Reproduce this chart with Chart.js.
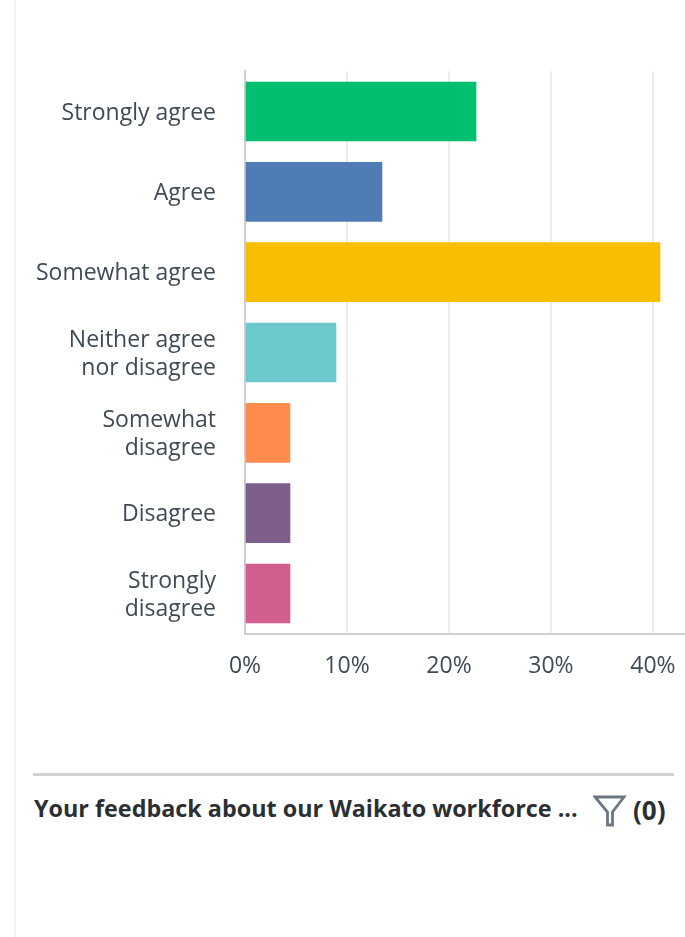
<!DOCTYPE html>
<html>
<head>
<meta charset="utf-8">
<style>
  html, body { margin: 0; padding: 0; background: #fff; }
  #page { position: relative; width: 685px; height: 937px; overflow: hidden; }
  #chart { position: absolute; left: 0; top: 0; }
  #edge { position: absolute; left: 14px; top: 0; width: 2px; height: 937px; background: #f1f1f1; }
  #rule { position: absolute; left: 33px; top: 773px; width: 641px; height: 3px; background: #d0d0d0; }
  #title { position: absolute; left: 34px; top: 792px; font: 700 23.35px "Open Sans", sans-serif; color: #2b2f33; white-space: nowrap; }
  #count { position: absolute; left: 633px; top: 792px; font: 700 26px "Open Sans", sans-serif; color: #2b2f33; }
  #funnel { position: absolute; left: 593px; top: 795px; }
</style>
</head>
<body>
<div id="page">
  <div id="edge"></div>
  <canvas id="chart" width="685" height="720"></canvas>
  <div id="rule"></div>
  <div id="title">Your feedback about our Waikato workforce ...</div>
  <svg id="funnel" width="34" height="32" viewBox="0 0 34 32" fill="none" stroke="#6b7780" stroke-width="2.8">
    <path d="M2 2 H31 L19.5 17 V30 H14.5 V17 Z"/>
  </svg>
  <div id="count">(0)</div>
</div>
<script src="https://cdn.jsdelivr.net/npm/chart.js@4"></script>
<script>
// Survey response shares, one horizontal bar per answer
const categories = [
  'Strongly agree',
  'Agree',
  'Somewhat agree',
  ['Neither agree', 'nor disagree'],
  ['Somewhat', 'disagree'],
  'Disagree',
  ['Strongly', 'disagree']
];
const percentages = [22.65, 13.43, 40.69, 8.92, 4.41, 4.41, 4.41];
const barColors = ['#00bf6f', '#507cb6', '#f9be00', '#6bc8cd', '#ff8b4f', '#7d5e8d', '#d25e8f'];
const axisTicks = [0, 10, 20, 30, 40];
const axisMax = 43.14;

new Chart(document.getElementById('chart'), {
  type: 'bar',
  data: {
    labels: categories,
    datasets: [{
      data: percentages,
      backgroundColor: barColors,
      barThickness: 59,
      borderWidth: 0
    }]
  },
  options: {
    indexAxis: 'y',
    responsive: false,
    animation: false,
    layout: { padding: { top: 71.35, right: 0, left: 0, bottom: 0 } },
    plugins: { legend: { display: false }, tooltip: { enabled: false } },
    scales: {
      x: {
        min: 0,
        max: axisMax,
        afterBuildTicks(axis) { axis.ticks = axisTicks.map(value => ({ value })); },
        // The last tick label fits inside the plot, so no extra room is kept for it
        afterFit(axis) { axis.height = 86.3; axis.paddingRight = 0; axis.paddingLeft = 0; },
        grid: { color: '#ededed', lineWidth: 2, drawTicks: false },
        border: { color: '#d0d0d0', width: 2 },
        ticks: {
          autoSkip: false,
          maxRotation: 0,
          padding: 19,
          color: '#3f4a55',
          font: { family: '"Open Sans", sans-serif', size: 23 },
          callback: value => value + '%'
        }
      },
      y: {
        afterFit(axis) { axis.width = 245; },
        grid: { display: false, drawTicks: false },
        border: { color: '#d0d0d0', width: 2 },
        ticks: {
          autoSkip: false,
          padding: 29,
          labelOffset: 1.5,
          color: '#3f4a55',
          font: { family: '"Open Sans", sans-serif', size: 23, lineHeight: 1.22 }
        }
      }
    }
  }
});
</script>
</body>
</html>
